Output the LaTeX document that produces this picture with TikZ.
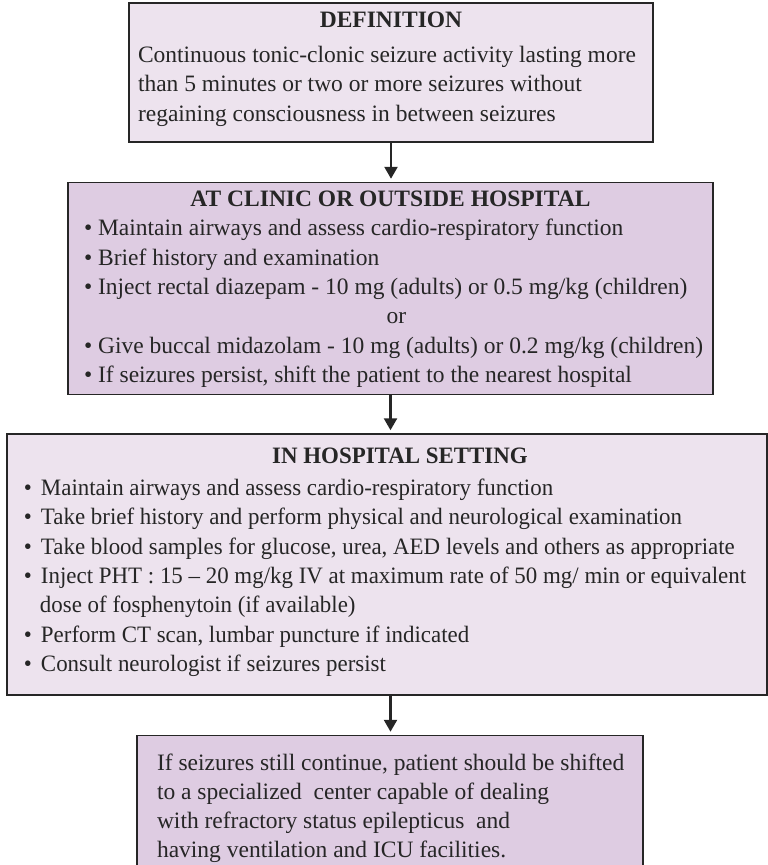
\documentclass[tikz,border=0pt]{standalone}
\usepackage{fontspec}
\setmainfont{Liberation Serif}
\newfontfamily\narrowserif{Liberation Serif}[Ligatures=TeX, FakeStretch=0.975]
\usetikzlibrary{positioning,arrows.meta}

\definecolor{palelilac}{RGB}{237,227,238}
\definecolor{lilac}{RGB}{222,204,226}
\definecolor{ink}{RGB}{38,38,38}
\newcommand{\boxfont}{\fontsize{23.5pt}{29.3pt}\selectfont}
\newcommand{\bul}{\textbullet\ }
\newcommand{\wbul}{\textbullet\hspace{9pt}}

\begin{document}
\begin{tikzpicture}[
     > = {Triangle[length=12pt,width=13pt]}, % arrow head style
     shorten > = 3pt, % keep the tip off the next box
     line width = 2.5pt % arrow line
 ]

 \tikzstyle{palebox}=[
     draw = ink,
     line width = 1.5pt,
     fill = palelilac,
     text = ink,
     inner ysep = 0pt,
     font = \boxfont
 ]
 \tikzstyle{lilacbox}=[palebox, fill = lilac]
 \tikzstyle{flow}=[->, draw = ink]

 \path[use as bounding box, clip] (0,0) rectangle (768pt,-865pt);

 \node[palebox, inner xsep=9pt] (def) at (391pt,-72.5pt) {%
  \begin{minipage}[c][139pt][t]{506pt}
   {\centering\rule{0pt}{24.5pt}\textbf{DEFINITION}\par}
   \vspace{5.7pt}
   \raggedright
   Continuous tonic-clonic seizure activity lasting more\\
   than 5 minutes or two or more seizures without\\
   regaining consciousness in between seizures
  \end{minipage}%
 };

 \node[lilacbox, inner xsep=4pt, below=39pt of def, xshift=-0.5pt] (clinic) {%
  \begin{minipage}[c][212pt][t]{637pt}
   {\centering\rule{0pt}{24pt}\textbf{AT CLINIC OR OUTSIDE HOSPITAL}\par}
   \raggedright\leftskip=12pt
   \bul Maintain airways and assess cardio-respiratory function\\
   \bul Brief history and examination\\
   \bul Inject rectal diazepam - 10 mg (adults) or 0.5 mg/kg (children)\\
   \hfill or\hfill\null\\
   \bul Give buccal midazolam - 10 mg (adults) or 0.2 mg/kg (children)\\
   \bul If seizures persist, shift the patient to the nearest hospital
  \end{minipage}%
 };

 \node[palebox, inner xsep=3pt, below=38pt of clinic, xshift=-3.5pt] (hosp) {%
  \begin{minipage}[c][261pt][t]{754pt}
   \narrowserif
   {\centering\hspace*{26pt}\rule{0pt}{29.5pt}\textbf{IN HOSPITAL SETTING}\par}
   \vspace{2.7pt}
   \raggedright\leftskip=14pt
   \wbul Maintain airways and assess cardio-respiratory function\\
   \wbul Take brief history and perform physical and neurological examination\\
   \wbul Take blood samples for glucose, urea, AED levels and others as appropriate\\
   \wbul Inject PHT : 15 -- 20 mg/kg IV at maximum rate of 50 mg/ min or equivalent\\
   \hspace*{16pt}dose of fosphenytoin (if available)\\
   \wbul Perform CT scan, lumbar puncture if indicated\\
   \wbul Consult neurologist if seizures persist
  \end{minipage}%
 };

 \node[lilacbox, inner xsep=15pt, below=39pt of hosp, xshift=3pt] (refer) {%
  \begin{minipage}[c][145pt][t]{476pt}
   \raggedright\leftskip=5pt
   \rule{0pt}{34.5pt}If seizures still continue, patient should be shifted\\
   to a specialized\ \ center capable of dealing\\
   with refractory status epilepticus\ \ and\\
   having ventilation and ICU facilities.
  \end{minipage}%
 };

 \draw[flow] (def.south) -- (def.south |- clinic.north);
 \draw[flow] (clinic.south) -- (clinic.south |- hosp.north);
 \draw[flow] (clinic.south |- hosp.south) -- (clinic.south |- refer.north);
\end{tikzpicture}
\end{document}
